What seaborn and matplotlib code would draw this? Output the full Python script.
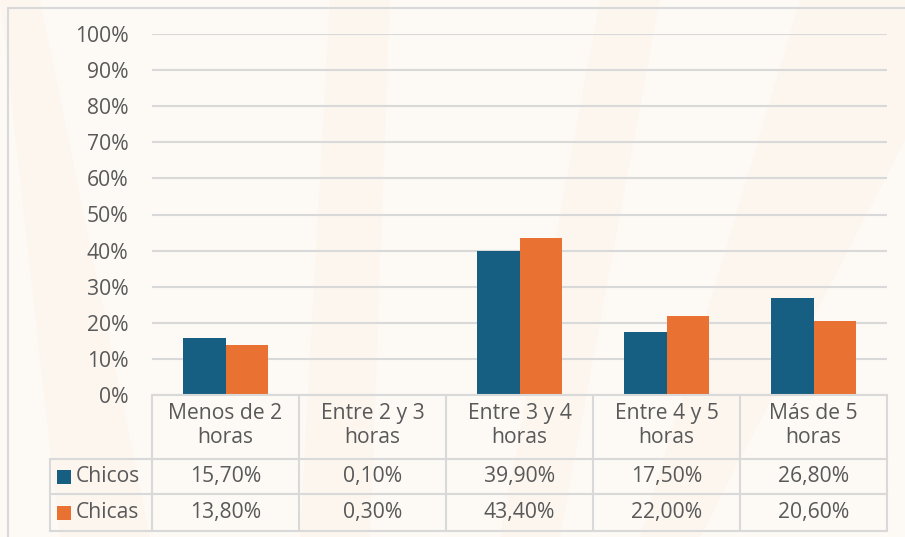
import matplotlib
matplotlib.use("Agg")
import matplotlib.pyplot as plt
import matplotlib.transforms as mtransforms
from matplotlib.patches import Polygon
import seaborn as sns
import numpy as np
import pandas as pd

# datos del gráfico
categorias = ["Menos de 2\nhoras", "Entre 2 y 3\nhoras", "Entre 3 y 4\nhoras",
              "Entre 4 y 5\nhoras", "Más de 5\nhoras"]
series = ["Chicos", "Chicas"]
chicos = [15.7, 0.1, 39.9, 17.5, 26.8]
chicas = [13.8, 0.3, 43.4, 22.0, 20.6]
yticks = [0, 10, 20, 30, 40, 50, 60, 70, 80, 90, 100]

colores = {"Chicos": "#175F82", "Chicas": "#E97132"}
gris_txt = "#595959"
gris_lin = "#D9D9D9"
fondo = "#FDFAF6"

df = pd.DataFrame({
    "categoria": categorias * 2,
    "serie": ["Chicos"] * len(categorias) + ["Chicas"] * len(categorias),
    "valor": chicos + chicas,
})

sns.set_style("white")
plt.rcParams["font.family"] = ["Open Sans", "DejaVu Sans"]
FS = 15.2

W, H = 905, 537
fig = plt.figure(figsize=(W / 100, H / 100), dpi=100, facecolor=fondo)

# bandas tenues del fondo
bandas = [
    [(0, 0), (40, 0), (150, 537), (60, 537)],
    [(330, 0), (390, 0), (370, 537), (300, 537)],
    [(600, 0), (660, 0), (560, 537), (500, 537)],
    [(800, 0), (905, 0), (905, 140), (700, 537), (640, 537)],
]
for b in bandas:
    pts = [(x / W, 1 - y / H) for x, y in b]
    fig.patches.append(Polygon(pts, closed=True, transform=fig.transFigure,
                               facecolor="#FCF6EF", edgecolor="none", zorder=-5))

# borde exterior
fig.add_artist(plt.Line2D([8 / W, 1], [1 - 8 / H, 1 - 8 / H], color=gris_lin, lw=1.5, zorder=-1))
fig.add_artist(plt.Line2D([8 / W, 8 / W], [0, 1 - 8 / H], color=gris_lin, lw=1.5, zorder=-1))

x0, x1 = 152, 887
y_top, y_base = 34, 395
ax = fig.add_axes([x0 / W, 1 - y_base / H, (x1 - x0) / W, (y_base - y_top) / H])
ax.set_facecolor("none")
ax.set_zorder(2)

sns.barplot(data=df, x="categoria", y="valor", hue="serie", hue_order=series,
            palette=colores, saturation=1, width=0.58, ax=ax, legend=False,
            zorder=3, edgecolor="none")

ax.set_xlim(-0.5, len(categorias) - 0.5)
ax.set_ylim(0, 100)
ax.set_yticks(yticks)
ax.set_yticklabels([f"{t}%" for t in yticks])
ax.tick_params(axis="y", length=0, pad=17, labelsize=FS, labelcolor=gris_txt)
ax.set_xticks([])
ax.set_xlabel("")
ax.set_ylabel("")
ax.yaxis.grid(True, color=gris_lin, lw=1.5)
ax.set_axisbelow(True)
for s in ax.spines.values():
    s.set_visible(False)

# tabla de datos bajo el eje
ph = y_base - y_top
def fy(py):
    return (y_base - py) / ph

def fx(px):
    return (px - x0) / (x1 - x0)

r_head, r1, r2 = fy(459), fy(494), fy(531)
kw = dict(color=gris_lin, lw=1.5, clip_on=False, transform=ax.transAxes, zorder=4)
ax.plot([0, 1], [0, 0], **kw)
ax.plot([fx(50), 1], [r_head, r_head], **kw)
ax.plot([fx(50), 1], [r1, r1], **kw)
ax.plot([fx(50), 1], [r2, r2], **kw)
ax.plot([fx(50), fx(50)], [r_head, r2], **kw)

tr = mtransforms.blended_transform_factory(ax.transData, ax.transAxes)
kw_d = dict(color=gris_lin, lw=1.5, clip_on=False, transform=tr, zorder=4)
for i in range(len(categorias) + 1):
    ax.plot([i - 0.5, i - 0.5], [0, r2], **kw_d)

fmt = lambda v: f"{v:.2f}".replace(".", ",") + "%"
for i, cat in enumerate(categorias):
    ax.text(i, (0 + r_head) / 2 + 0.005, cat, transform=tr, ha="center", va="center",
            fontsize=FS, color=gris_txt, linespacing=1.2)
    ax.text(i, (r_head + r1) / 2, fmt(chicos[i]), transform=tr, ha="center",
            va="center", fontsize=FS, color=gris_txt)
    ax.text(i, (r1 + r2) / 2, fmt(chicas[i]), transform=tr, ha="center",
            va="center", fontsize=FS, color=gris_txt)

for nombre, ya, yb in [("Chicos", r_head, r1), ("Chicas", r1, r2)]:
    yc = (ya + yb) / 2
    ax.scatter([fx(63.5)], [yc], marker="s", s=88, color=colores[nombre],
               transform=ax.transAxes, clip_on=False, zorder=5, linewidths=0)
    ax.text(fx(76), yc, nombre, transform=ax.transAxes, ha="left", va="center",
            fontsize=FS, color=gris_txt)

fig.savefig("out.png", dpi=100, facecolor=fondo)
